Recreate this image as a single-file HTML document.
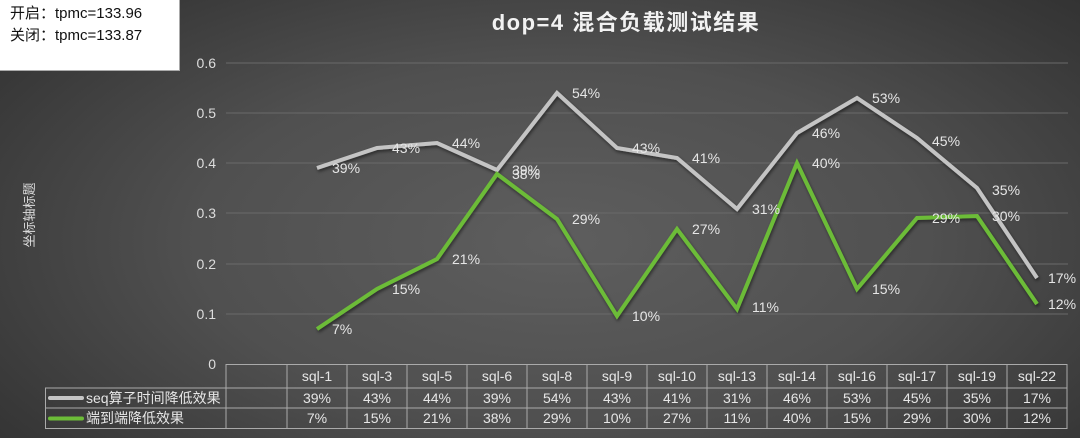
<!DOCTYPE html>
<html><head><meta charset="utf-8"><style>
html,body{margin:0;padding:0}
body{width:1080px;height:438px;overflow:hidden;position:relative;
background:radial-gradient(ellipse 75% 90% at 52% 55%, #5e5e5e 0%, #505050 45%, #383838 80%, #2c2c2c 100%);
font-family:"Liberation Sans","Noto Sans CJK SC",sans-serif;}
svg{position:absolute;left:0;top:0}
.box{position:absolute;left:0;top:0;width:180px;height:71px;background:#fff;border-right:1px solid #aaa;border-bottom:1px solid #aaa;
font-size:15px;color:#111;line-height:22px;padding:3px 0 0 10px;box-sizing:border-box}
</style></head><body>
<svg width="1080" height="438" font-family="Liberation Sans, Noto Sans CJK SC, sans-serif">
<defs><filter id="sh"><feDropShadow dx="1" dy="2" stdDeviation="1.5" flood-color="#000" flood-opacity="0.5"/></filter></defs>
<text x="626" y="30" fill="#f2f2f2" font-size="22" font-weight="bold" text-anchor="middle" letter-spacing="1.5">dop=4 混合负载测试结果</text>
<text transform="translate(34,215) rotate(-90)" fill="#ddd" font-size="13" text-anchor="middle">坐标轴标题</text>
<g stroke="#6a6a6a" stroke-width="1">
<line x1="226" y1="63" x2="1068" y2="63"/><line x1="226" y1="113" x2="1068" y2="113"/>
<line x1="226" y1="163" x2="1068" y2="163"/><line x1="226" y1="213" x2="1068" y2="213"/>
<line x1="226" y1="264" x2="1068" y2="264"/><line x1="226" y1="314" x2="1068" y2="314"/>
</g>
<g fill="#ddd" font-size="14" text-anchor="end">
<text x="216" y="68">0.6</text><text x="216" y="118">0.5</text><text x="216" y="168">0.4</text>
<text x="216" y="218">0.3</text><text x="216" y="269">0.2</text><text x="216" y="319">0.1</text><text x="216" y="369">0</text>
</g>
<g fill="none" stroke-width="4" stroke-linejoin="miter" filter="url(#sh)">
<polyline stroke="#c4c4c4" points="317,168 377,148 437,143 497,170 557,93 617,148 677,158 737,209 797,133 857,98 917,138 977,188 1037,278"/>
<polyline stroke="#6cbc38" points="317,329 377,289 437,259 497,174 557,219 617,316 677,229 737,309 797,163 857,289 917,218 977,216 1037,304"/>
</g>
<g fill="#e6e6e6" font-size="14">
<text x="332" y="173">39%</text><text x="392" y="153">43%</text><text x="452" y="148">44%</text><text x="512" y="175">39%</text>
<text x="572" y="98">54%</text><text x="632" y="153">43%</text><text x="692" y="163">41%</text><text x="752" y="214">31%</text>
<text x="812" y="138">46%</text><text x="872" y="103">53%</text><text x="932" y="146">45%</text><text x="992" y="195">35%</text><text x="1048" y="283">17%</text>
<text x="332" y="334">7%</text><text x="392" y="294">15%</text><text x="452" y="264">21%</text><text x="512" y="179">38%</text>
<text x="572" y="224">29%</text><text x="632" y="321">10%</text><text x="692" y="234">27%</text><text x="752" y="312">11%</text>
<text x="812" y="168">40%</text><text x="872" y="294">15%</text><text x="932" y="223">29%</text><text x="992" y="221">30%</text><text x="1048" y="309">12%</text>
</g>
<g stroke="#aaa" stroke-width="1" fill="none">
<line x1="226" y1="364.5" x2="1067" y2="364.5"/>
<line x1="45" y1="388" x2="1067" y2="388"/>
<line x1="45" y1="408" x2="1067" y2="408"/>
<line x1="45" y1="428.5" x2="1067" y2="428.5"/>
<line x1="45.5" y1="388" x2="45.5" y2="429"/>
<line x1="226" y1="364" x2="226" y2="429"/>
<line x1="287" y1="364" x2="287" y2="429"/><line x1="347" y1="364" x2="347" y2="429"/>
<line x1="407" y1="364" x2="407" y2="429"/><line x1="467" y1="364" x2="467" y2="429"/>
<line x1="527" y1="364" x2="527" y2="429"/><line x1="587" y1="364" x2="587" y2="429"/>
<line x1="647" y1="364" x2="647" y2="429"/><line x1="707" y1="364" x2="707" y2="429"/>
<line x1="767" y1="364" x2="767" y2="429"/><line x1="827" y1="364" x2="827" y2="429"/>
<line x1="887" y1="364" x2="887" y2="429"/><line x1="947" y1="364" x2="947" y2="429"/>
<line x1="1007" y1="364" x2="1007" y2="429"/><line x1="1067" y1="364" x2="1067" y2="429"/>
</g>
<line x1="50" y1="398" x2="82" y2="398" stroke="#c4c4c4" stroke-width="4" stroke-linecap="round"/>
<line x1="50" y1="418.5" x2="82" y2="418.5" stroke="#6cbc38" stroke-width="4" stroke-linecap="round"/>
<g fill="#e6e6e6" font-size="14">
<text x="86" y="403">seq算子时间降低效果</text><text x="86" y="423">端到端降低效果</text>
</g>
<g fill="#e6e6e6" font-size="14" text-anchor="middle">
<text x="317" y="381">sql-1</text><text x="377" y="381">sql-3</text><text x="437" y="381">sql-5</text><text x="497" y="381">sql-6</text>
<text x="557" y="381">sql-8</text><text x="617" y="381">sql-9</text><text x="677" y="381">sql-10</text><text x="737" y="381">sql-13</text>
<text x="797" y="381">sql-14</text><text x="857" y="381">sql-16</text><text x="917" y="381">sql-17</text><text x="977" y="381">sql-19</text><text x="1037" y="381">sql-22</text>
<text x="317" y="403">39%</text><text x="377" y="403">43%</text><text x="437" y="403">44%</text><text x="497" y="403">39%</text>
<text x="557" y="403">54%</text><text x="617" y="403">43%</text><text x="677" y="403">41%</text><text x="737" y="403">31%</text>
<text x="797" y="403">46%</text><text x="857" y="403">53%</text><text x="917" y="403">45%</text><text x="977" y="403">35%</text><text x="1037" y="403">17%</text>
<text x="317" y="423">7%</text><text x="377" y="423">15%</text><text x="437" y="423">21%</text><text x="497" y="423">38%</text>
<text x="557" y="423">29%</text><text x="617" y="423">10%</text><text x="677" y="423">27%</text><text x="737" y="423">11%</text>
<text x="797" y="423">40%</text><text x="857" y="423">15%</text><text x="917" y="423">29%</text><text x="977" y="423">30%</text><text x="1037" y="423">12%</text>
</g>
</svg>
<div class="box">开启：tpmc=133.96<br>关闭：tpmc=133.87</div>
</body></html>
